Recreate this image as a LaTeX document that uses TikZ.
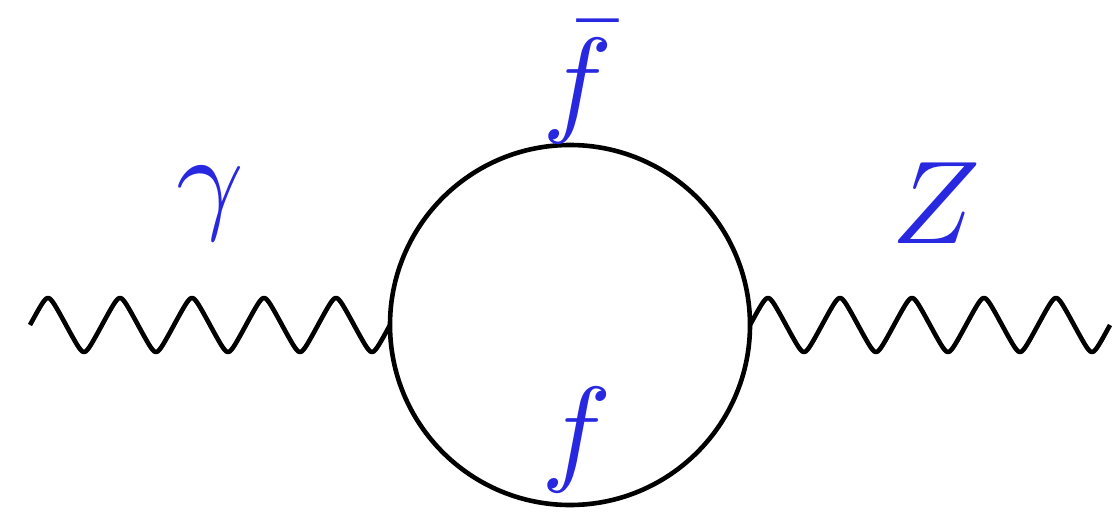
\documentclass[tikz,border=0pt]{standalone}
\definecolor{lblue}{RGB}{40,40,225}
\newcommand{\biglbl}[1]{\scalebox{11.8}{#1}}
\begin{document}
\begin{tikzpicture}[x=1pt,y=-1pt,
  photon/.style={line width=4.6pt,line join=round},
  loop/.style={line width=4.6pt},
  lbl/.style={text=lblue,inner sep=0pt,anchor=base}]
\useasboundingbox (0,0) rectangle (1112,514);
\coordinate (L) at (30,325);
\coordinate (v1) at (390,325);
\coordinate (v2) at (750,325);
\coordinate (R) at (1110,325);
\coordinate (C) at (570,325);
\draw[photon,shift={(L)}] plot[domain=0:360,samples=241,smooth] (\x,{-27*asin(0.93*sin(5*\x))/asin(0.93)});
\draw[photon,shift={(v2)}] plot[domain=0:360,samples=241,smooth] (\x,{-27*asin(0.93*sin(5*\x))/asin(0.93)});
\draw[loop] (C) circle[radius=180pt];
\node[lbl] (fb) at (578,120) {\biglbl{$\bar f$}};
\node[lbl] (f) at (577,469) {\biglbl{$f$}};
\node[lbl] (g) at (210,217) {\biglbl{$\gamma$}};
\node[lbl] (Z) at (936,243) {\biglbl{$Z$}};
\end{tikzpicture}
\end{document}
